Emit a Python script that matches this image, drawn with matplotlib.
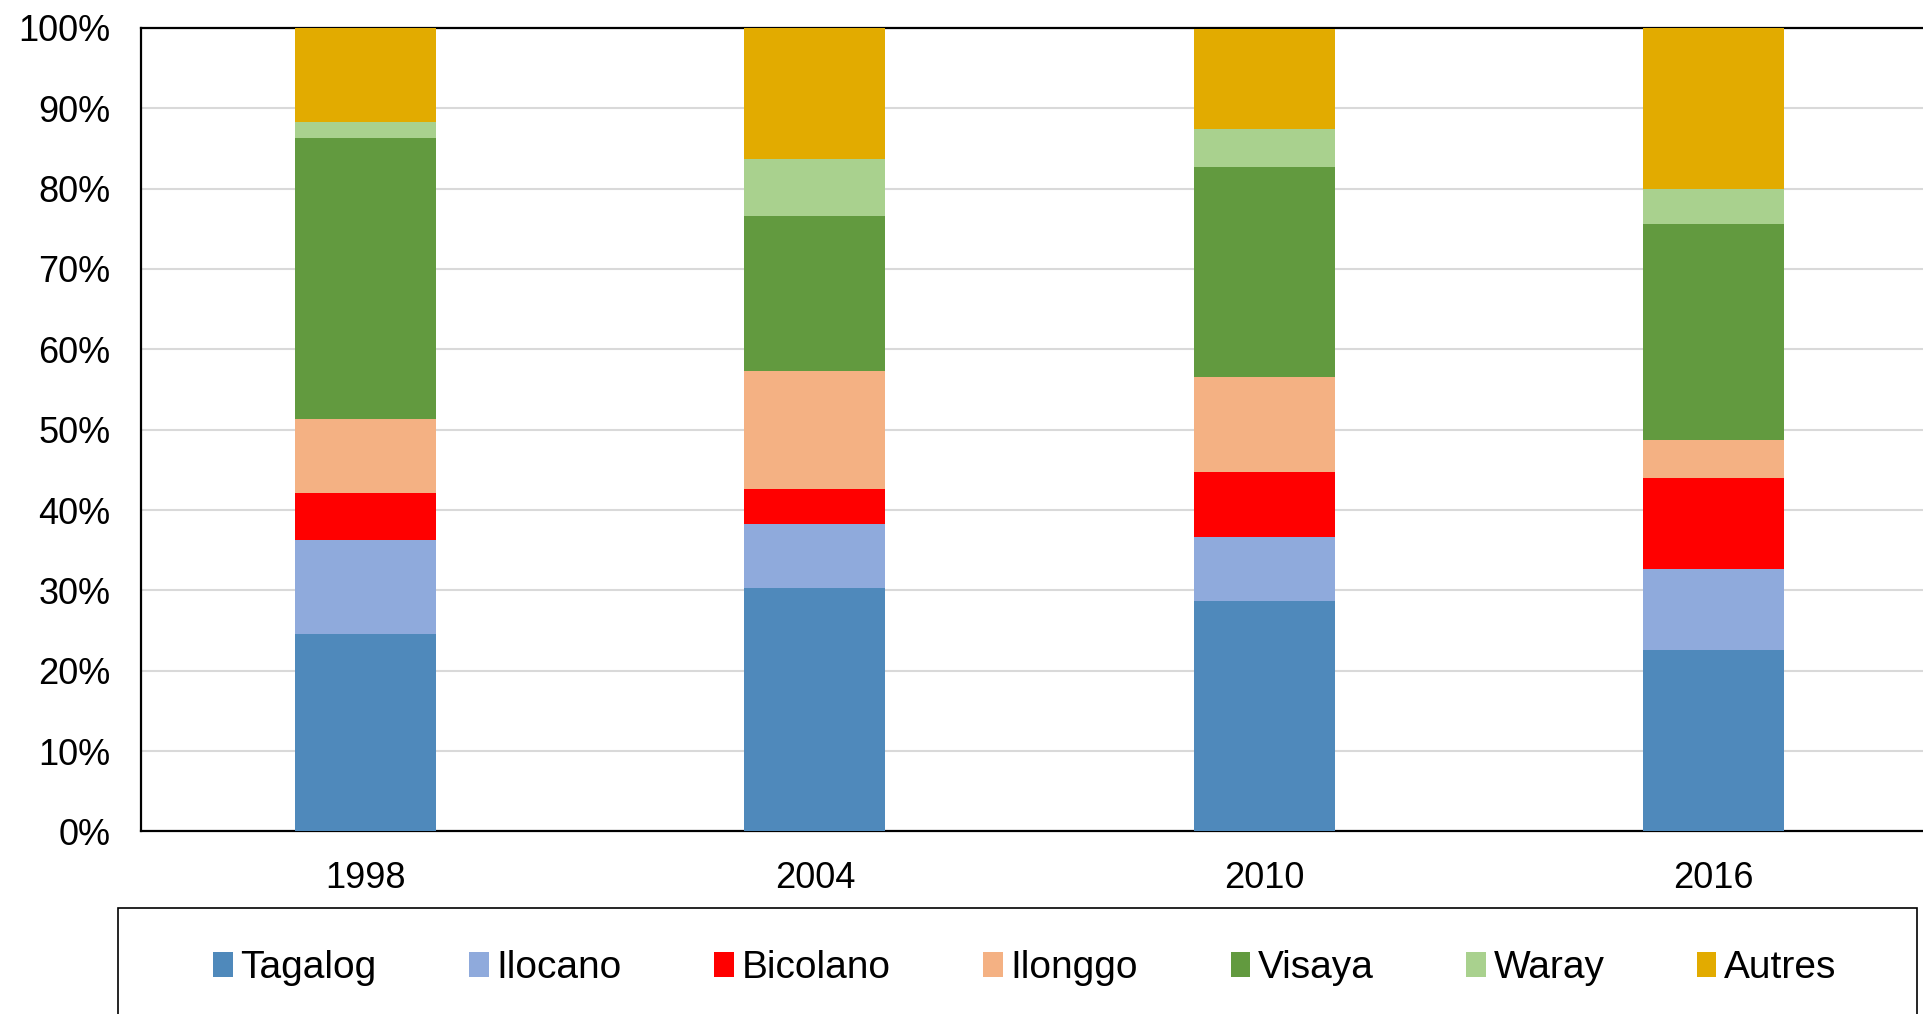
import matplotlib.pyplot as plt
from matplotlib.patches import Rectangle
from matplotlib.ticker import PercentFormatter

plt.rcParams["font.family"] = ["Liberation Sans", "DejaVu Sans"]

years = ["1998", "2004", "2010", "2016"]

# parts in % per year, bottom to top
tagalog = [24.6, 30.3, 28.7, 22.55]
ilocano = [11.65, 7.95, 7.9, 10.15]
bicolano = [5.85, 4.4, 8.1, 11.3]
ilonggo = [9.2, 14.7, 11.9, 4.7]
visaya = [35.0, 19.2, 26.1, 26.9]
waray = [2.0, 7.1, 4.7, 4.4]
autres = [11.7, 16.35, 12.5, 20.0]

labels = ["Tagalog", "Ilocano", "Bicolano", "Ilonggo", "Visaya", "Waray", "Autres"]
colors = ["#4f89bb", "#8faadc", "#ff0000", "#f4b183", "#629a3f", "#a9d18e", "#e2ab00"]
series = [tagalog, ilocano, bicolano, ilonggo, visaya, waray, autres]


def make_plot():
    fig = plt.figure(figsize=(19.23, 10.14), dpi=100)
    ax = fig.add_axes([0.0733, 0.18, 0.9345, 0.7925])

    x = range(len(years))
    bottom = [0.0] * len(years)
    handles = []
    for name, vals, col in zip(labels, series, colors):
        h = ax.bar(x, vals, width=0.314, bottom=bottom, color=col,
                   linewidth=0, label=name, zorder=3)
        handles.append(h)
        bottom = [b + v for b, v in zip(bottom, vals)]

    ax.set_xlim(-0.5, 3.5)
    ax.set_ylim(0, 100)
    ax.set_yticks(range(0, 101, 10))
    ax.yaxis.set_major_formatter(PercentFormatter(decimals=0))
    ax.set_xticks(list(x))
    ax.set_xticklabels(years)
    ax.tick_params(axis="both", length=0, labelsize=26)
    ax.tick_params(axis="y", pad=22)
    ax.tick_params(axis="x", pad=21)
    ax.grid(axis="y", color="#d9d9d9", linewidth=1.5, zorder=0)
    for sp in ax.spines.values():
        sp.set_color("black")
        sp.set_linewidth(1.6)

    # legend frame, runs past the bottom edge
    fig.patches.append(Rectangle((0.0614, -0.1), 0.9355, 0.205,
                                 transform=fig.transFigure, fill=False,
                                 edgecolor="black", linewidth=1.2))
    fig.legend(handles=handles, loc="center", bbox_to_anchor=(0.533, 0.045),
               ncol=7, frameon=False, fontsize=28, handlelength=0.5,
               handleheight=0.6, handletextpad=0.2, columnspacing=2.38)

    fig.savefig("out.png", dpi=100)


if __name__ == "__main__":
    make_plot()
